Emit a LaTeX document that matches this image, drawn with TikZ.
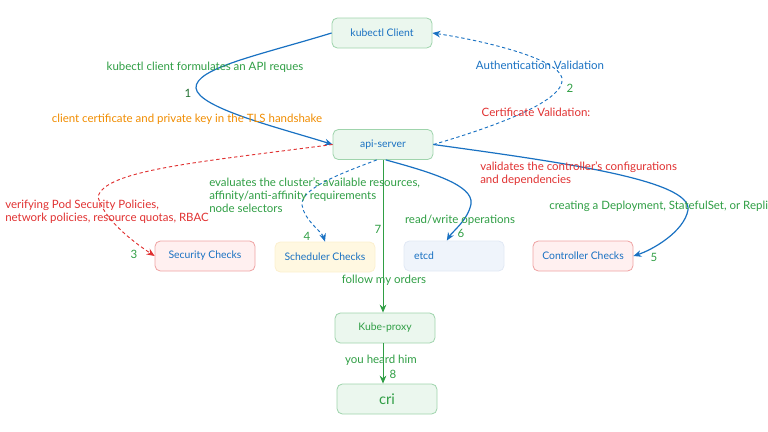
\documentclass[tikz,border=0pt]{standalone}
\usepackage{fontspec}
\setmainfont{Lato}
\usetikzlibrary{arrows.meta,calc}
\definecolor{eblue}{HTML}{1971C2}
\definecolor{egreen}{HTML}{2F9E44}
\definecolor{ered}{HTML}{E03131}
\definecolor{eorange}{HTML}{F08C00}
\definecolor{gfill}{HTML}{EBF7EE}
\definecolor{gline}{HTML}{9FD4AC}
\definecolor{rfill}{HTML}{FFF0F0}
\definecolor{rline}{HTML}{EFA3A3}
\definecolor{yfill}{HTML}{FFF8E1}
\definecolor{yline}{HTML}{FCF0CF}
\definecolor{bfill}{HTML}{EFF4FB}
\definecolor{bline}{HTML}{E1E9F5}
\tikzset{
  box/.style={rounded corners=4pt, minimum width=75pt, minimum height=22.5pt, line width=0.6pt, font=\fontsize{7.8}{9}\selectfont, inner sep=1pt},
  gbox/.style={box, draw=gline, fill=gfill, text=eblue},
  rbox/.style={box, draw=rline, fill=rfill, text=eblue},
  ybox/.style={box, draw=yline, fill=yfill, text=eblue},
  bbox/.style={box, draw=bline, fill=bfill, text=eblue},
  kbox/.style={box, draw=gline, fill=gfill, text=egreen},
  lbl/.style={font=\fontsize{8.6}{9.6}\selectfont, inner sep=0pt},
  llbl/.style={lbl, anchor=west, align=left},
  arr/.style={-{Stealth[length=6pt,width=5pt]}, line width=0.9pt},
  darr/.style={arr, dashed, dash pattern=on 2.5pt off 2pt, line width=0.7pt},
}
\begin{document}
\begin{tikzpicture}[x=0.75pt,y=-0.75pt]
\useasboundingbox (0,0) rectangle (768,432);
% nodes
\node[gbox] (kc) at (382,33) {kubectl Client};
\node[gbox] (api) at (383,144.5) {api-server};
\node[rbox] (sec) at (205,256) {Security Checks};
\node[ybox] (sch) at (325,257) {Scheduler Checks};
\node[bbox] (etcd) at (454,256) {\hspace*{-45pt}etcd};
\node[rbox] (ctl) at (583,256) {Controller Checks};
\node[kbox] (kp) at (385,328) {Kube-proxy};
\node[kbox, font=\fontsize{11}{12}\selectfont] (cri) at (387,399) {cri};

% 1
\draw[arr, eblue] (kc.west) .. controls (260,55) and (195,68) .. (196,88)
   .. controls (198,108) and (280,128) .. (api.west);
\node[lbl, egreen] (l1a) at (205,67) {kubectl client formulates an API reques};
\node[lbl, egreen!70!black] (l1n) at (188,93) {1};
\node[lbl, eorange] (l1b) at (187,119) {client certificate and private key in the TLS handshake};

% 2
\draw[darr, eblue] (api.east) .. controls (500,125) and (566,100) .. (562,78)
   .. controls (558,58) and (480,40) .. (kc.east);
\node[lbl, eblue] (l2a) at (540,65) {Authentication Validation};
\node[lbl, egreen] (l2n) at (570,88) {2};
\node[lbl, ered] (l2b) at (536,112) {Certificate Validation:};

% 3
\draw[darr, ered] (api.west) .. controls (200,162) and (104,170) .. (98,197)
   .. controls (105,222) and (138,245) .. (sec.west);
\node[llbl, ered] (l3a) at (5,212) {verifying Pod Security Policies,\\network policies, resource quotas, RBAC};
\node[lbl, egreen] (l3n) at (134,254) {3};

% 4
\draw[darr, eblue] (api.-112) .. controls (345,172) and (300,188) .. (302,205)
   .. controls (304,220) and (322,232) .. (sch.north);
\node[llbl, egreen] (l4a) at (209,195) {evaluates the cluster's available resources,\\affinity/anti-affinity requirements\\node selectors};
\node[lbl, egreen] (l4n) at (307,236) {4};

% 5
\draw[arr, eblue] (api.east) .. controls (560,162) and (692,180) .. (688,210)
   .. controls (684,232) and (652,250) .. (ctl.east);
\node[llbl, ered] (l5a) at (480,173.5) {validates the controller's configurations\\and dependencies};
\node[llbl, egreen] (l5b) at (549,206) {creating a Deployment, StatefulSet, or Replic};
\node[lbl, egreen] (l5n) at (654,257) {5};

% 6
\draw[arr, eblue] (api.-80) .. controls (430,172) and (474,185) .. (471,204)
   .. controls (468,220) and (452,232) .. (etcd.115);
\node[lbl, egreen] (l6a) at (460,220) {read/write operations};
\node[lbl, egreen] (l6n) at (461,233) {6};

% 7
\draw[arr, egreen, line width=0.7pt] (api.south) -- (api.south |- kp.north);
\node[lbl, egreen] (l7n) at (378,229) {7};
\node[lbl, egreen] (l7a) at (384,280) {follow my orders};

% 8
\draw[arr, egreen, line width=0.7pt] (kp.south -| api.south) -- (api.south |- cri.north);
\node[lbl, egreen] (l8a) at (381,360) {you heard him};
\node[lbl, egreen] (l8n) at (393,374) {8};
\end{tikzpicture}
\end{document}
